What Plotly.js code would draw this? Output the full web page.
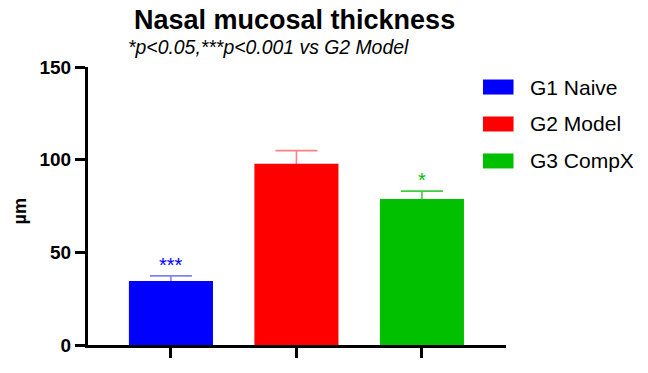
<!DOCTYPE html>
<html>
<head>
<meta charset="utf-8">
<script src="https://cdn.plot.ly/plotly-3.0.1.min.js"></script>
<style>html,body{margin:0;padding:0;background:#fff}#chart{width:648px;height:373px}</style>
</head>
<body>
<div id="chart"></div>
<script>
// Data
const groups = ["G1 Naive", "G2 Model", "G3 CompX"];
const means = [34.5, 97.8, 78.8];
const errors = [2.8, 7.1, 4.2];
const sigLabels = ["***", "", "*"];
const barColors = ["#0000ff", "#ff0000", "#00c000"];
const errColors = ["#8080ff", "#ff8080", "#40cc40"];
const yTicks = [0, 50, 100, 150];

const FONT = "Liberation Sans, Arial, sans-serif";

// error bars on the base subplot (drawn underneath the bars)
const errTraces = groups.map((g, i) => ({
  type: "scatter", mode: "markers",
  x: [g], y: [means[i]],
  xaxis: "x", yaxis: "y",
  marker: { size: 0.1, color: "rgba(0,0,0,0)" },
  error_y: { type: "data", array: [errors[i]], symmetric: true,
    color: errColors[i], thickness: 1.6, width: 21 },
  showlegend: false, hoverinfo: "skip", cliponaxis: false
}));

// bars on the overlaid subplot (drawn on top)
const barTraces = groups.map((g, i) => ({
  type: "bar",
  x: [g], y: [means[i]],
  xaxis: "x2", yaxis: "y2",
  width: 0.67, name: g,
  marker: { color: barColors[i], line: { width: 0 } },
  showlegend: false, hoverinfo: "skip"
}));

const annotations = [
  { text: "<b>Nasal mucosal thickness</b>", xref: "paper", yref: "paper",
    x: 0.495, y: 1.17, xanchor: "center", yanchor: "middle", showarrow: false,
    font: { family: FONT, size: 27, color: "#000" } },
  { text: "<i>*p<0.05,***p<0.001 vs G2 Model</i>", xref: "paper", yref: "paper",
    x: 0.431, y: 1.072, xanchor: "center", yanchor: "middle", showarrow: false,
    font: { family: FONT, size: 19.4, color: "#000" } },
  { text: "<b>µm</b>", xref: "paper", yref: "paper", x: -0.163, y: 0.48,
    xanchor: "center", yanchor: "middle", textangle: -90, showarrow: false,
    font: { family: FONT, size: 18, color: "#000" } }
];

groups.forEach((g, i) => {
  if (sigLabels[i]) {
    annotations.push({ text: sigLabels[i], x: g, y: means[i] + errors[i],
      xref: "x2", yref: "y2", yanchor: "bottom", yshift: -2, showarrow: false,
      font: { family: FONT, size: 20, color: barColors[i] } });
  }
});

const shapes = [];
const legY = [0.928, 0.795, 0.662];
groups.forEach((g, i) => {
  shapes.push({ type: "rect", xref: "paper", yref: "paper",
    x0: 0.945, x1: 1.018, y0: legY[i] - 0.027, y1: legY[i] + 0.027,
    fillcolor: barColors[i], line: { width: 0 } });
  annotations.push({ text: g, xref: "paper", yref: "paper",
    x: 1.053, y: legY[i], xanchor: "left", yanchor: "middle", showarrow: false,
    font: { family: FONT, size: 21, color: "#000" } });
});

const xRange = [-0.661, 2.67];
const yRange = [0, 150];

const layout = {
  width: 648, height: 373,
  margin: { l: 88, r: 142, t: 67, b: 28 },
  paper_bgcolor: "#fff", plot_bgcolor: "#fff",
  showlegend: false,
  xaxis: {
    type: "category", categoryarray: groups, range: xRange, visible: false, fixedrange: true
  },
  yaxis: {
    range: yRange, visible: false, fixedrange: true
  },
  xaxis2: {
    type: "category", categoryarray: groups, range: xRange, overlaying: "x", side: "bottom",
    showticklabels: false, ticks: "outside", ticklen: 10, tickwidth: 3, tickcolor: "#000",
    showline: true, linewidth: 3, linecolor: "#000", showgrid: false, zeroline: false,
    fixedrange: true
  },
  yaxis2: {
    range: yRange, overlaying: "y", side: "left",
    tickvals: yTicks, ticktext: yTicks.map(String),
    ticks: "outside", ticklen: 10, tickwidth: 3, tickcolor: "#000",
    showline: true, linewidth: 3, linecolor: "#000", showgrid: false, zeroline: false,
    tickfont: { family: FONT, size: 19, color: "#000", weight: "bold" },
    fixedrange: true
  },
  annotations: annotations,
  shapes: shapes,
  font: { family: FONT, color: "#000" }
};

Plotly.newPlot("chart", errTraces.concat(barTraces), layout, { staticPlot: true, displayModeBar: false });
</script>
</body>
</html>
